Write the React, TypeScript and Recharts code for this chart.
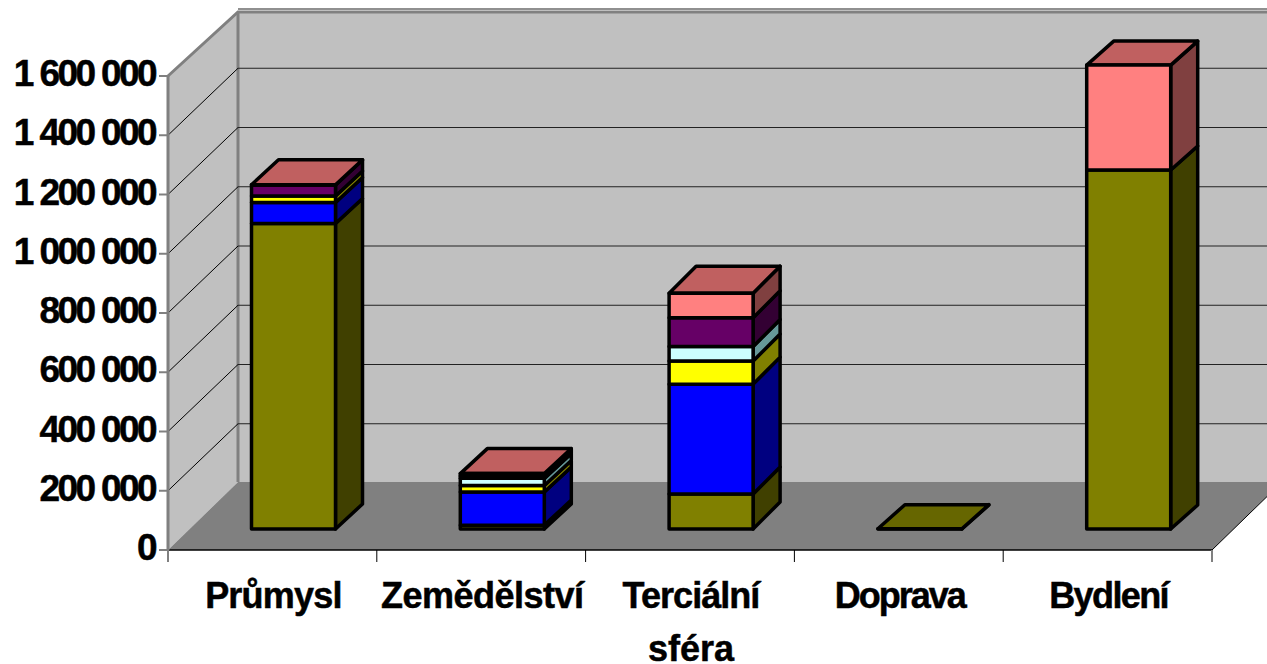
import React from "react";
import { BarChart, Bar, XAxis, YAxis, CartesianGrid } from "recharts";

const categories = ["Průmysl", "Zemědělství", "Terciální sféra", "Doprava", "Bydlení"];
const olive = [1031000, 13000, 118000, 1000, 1212000];
const blue = [71000, 112000, 371000, 0, 0];
const yellow = [22000, 22000, 78000, 0, 0];
const cyan = [0, 24000, 49000, 0, 0];
const purple = [37000, 8000, 97000, 0, 0];
const pink = [1000, 8000, 83000, 0, 354000];
const yTicks = [0, 200000, 400000, 600000, 800000, 1000000, 1200000, 1400000, 1600000];

const seriesValues = [olive, blue, yellow, cyan, purple, pink];
const seriesKeys = ["olive", "blue", "yellow", "cyan", "purple", "pink"];
const frontColors = ["#808000", "#0000ff", "#ffff00", "#ccffff", "#660066", "#ff8080"];
const sideColors = ["#404000", "#000080", "#808000", "#669999", "#330033", "#804040"];
const topColors = ["#666600", "#0000cc", "#cccc00", "#a3cccc", "#520052", "#c06060"];

const chartData = categories.map((name, i) => {
  const row: Record<string, any> = { name };
  seriesKeys.forEach((k, s) => { row[k] = seriesValues[s][i]; });
  return row;
});

const W = 1267, H = 664;
const LEFT = 168, RIGHT = 1212, TOP = 76, BOTTOM = 550;
const WALL_DX = 70, WALL_DY = -68, GRID_DY = -67;
const BAR_SHIFT_X = 21.5, BAR_SHIFT_Y = -21, DEPTH_X = 27;
const DEPTH_Y = [-25, -25, -27, -24, -24];
const FONT = "'Liberation Sans', Arial, sans-serif";
const BAND = (RIGHT - LEFT) / categories.length;
const WORD_SPACING: Record<string, number> = {
  "Průmysl": -0.8, "Zemědělství": -0.5, "Terciální": -0.95, "sféra": 0, "Doprava": -2, "Bydlení": -1.6,
};

function Walls() {
  const bx = LEFT + WALL_DX, by = BOTTOM + WALL_DY, rx = RIGHT + WALL_DX;
  return (
    <g>
      <polygon points={`${bx},12 ${rx},12 ${rx},${by} ${bx},${by}`} fill="#c0c0c0" />
      <polygon points={`${LEFT},${TOP} ${bx},12 ${bx},${by} ${LEFT},${BOTTOM}`} fill="#c0c0c0" />
      <polygon points={`${LEFT},${BOTTOM} ${RIGHT},${BOTTOM} ${rx},${by} ${bx},${by}`} fill="#808080" />
      <line x1={RIGHT} y1={BOTTOM} x2={rx} y2={by} stroke="#000" strokeWidth={1} />
      <polyline points={`${LEFT},${TOP} ${bx},12 ${W},12`} fill="none" stroke="#808080" strokeWidth={3} />
      <line x1={bx} y1={12} x2={bx} y2={by} stroke="#808080" strokeWidth={3} />
    </g>
  );
}

function gridLine(p: any) {
  const isFloor = p.y1 >= BOTTOM - 1;
  return (
    <g key={p.key ?? p.index}>
      {p.index === 0 && <Walls />}
      {!isFloor && (
        <line x1={LEFT + WALL_DX} x2={W} y1={p.y1 + GRID_DY} y2={p.y1 + GRID_DY} stroke="#222" strokeWidth={1.2} />
      )}
      {!isFloor && p.y1 > TOP + 1 && (
        <line x1={LEFT} x2={LEFT + WALL_DX} y1={p.y1} y2={p.y1 + GRID_DY} stroke="#000" strokeWidth={1} />
      )}
    </g>
  );
}

function makeSegment(seriesIndex: number) {
  return function Segment(props: any) {
    const { x, y, width, height, index } = props;
    if (seriesValues[seriesIndex][index] === 0) return <g />;
    const isTop = seriesValues.slice(seriesIndex + 1).every((v) => v[index] === 0);
    const l = x + BAR_SHIFT_X, r = l + width, t = y + BAR_SHIFT_Y, b = t + height;
    const dy = DEPTH_Y[index];
    const common = { stroke: "#000", strokeWidth: 3.5, strokeLinejoin: "round" as const };
    return (
      <g>
        <polygon points={`${r},${t} ${r + DEPTH_X},${t + dy} ${r + DEPTH_X},${b + dy} ${r},${b}`} fill={sideColors[seriesIndex]} {...common} />
        {isTop && (
          <polygon points={`${l},${t} ${l + DEPTH_X},${t + dy} ${r + DEPTH_X},${t + dy} ${r},${t}`} fill={topColors[seriesIndex]} {...common} />
        )}
        <rect x={l} y={t} width={width} height={height} fill={frontColors[seriesIndex]} {...common} />
      </g>
    );
  };
}

function CategoryTick(props: any) {
  const { x, payload, index } = props;
  const words = String(payload.value).split(" ");
  const last = index === categories.length - 1;
  return (
    <g>
      <line x1={x - BAND / 2} x2={x - BAND / 2} y1={BOTTOM} y2={BOTTOM + 12} stroke={index === 0 ? "#808080" : "#000"} strokeWidth={index === 0 ? 2 : 1} />
      {last && <line x1={x + BAND / 2} x2={x + BAND / 2} y1={BOTTOM} y2={BOTTOM + 12} stroke="#808080" strokeWidth={2} />}
      <text y={BOTTOM + 58} textAnchor="middle" fontFamily={FONT} fontWeight={700} fontSize={36} stroke="#000" strokeWidth={0.5} fill="#000">
        {words.map((w, i) => (
          <tspan key={w} x={x + 1} dy={i === 0 ? 0 : 53} letterSpacing={WORD_SPACING[w]}>{w}</tspan>
        ))}
      </text>
    </g>
  );
}

const formatTick = (v: number) => String(v).replace(/\B(?=(\d{3})+$)/g, " ");

function ValueTick(props: any) {
  const { x, y, payload } = props;
  return (
    <text x={x - 2} y={y + 10} textAnchor="end" fontFamily={FONT} fontWeight={700} fontSize={37} letterSpacing={-2.6} stroke="#000" strokeWidth={0.5} fill="#000">
      {formatTick(payload.value)}
    </text>
  );
}

export default function App() {
  return (
    <div style={{ position: "absolute", left: 0, top: 0, width: W, height: H, background: "#fff", overflow: "hidden" }}>
      <BarChart
        width={W}
        height={H}
        data={chartData}
        margin={{ top: TOP, right: W - RIGHT, bottom: 0, left: 0 }}
        barSize={84}
        barGap={0}
      >
        <CartesianGrid vertical={false} horizontal={gridLine} />
        <XAxis
          dataKey="name"
          height={H - BOTTOM}
          interval={0}
          tickLine={false}
          axisLine={{ stroke: "#000", strokeWidth: 1.5 }}
          tick={<CategoryTick />}
        />
        <YAxis
          width={LEFT}
          domain={[0, 1600000]}
          ticks={yTicks}
          interval={0}
          tickSize={9}
          tickMargin={2}
          tickLine={{ stroke: "#808080", strokeWidth: 2 }}
          axisLine={{ stroke: "#808080", strokeWidth: 3 }}
          tick={<ValueTick />}
        />
        {seriesKeys.map((k, i) => (
          <Bar key={k} dataKey={k} stackId="a" fill={frontColors[i]} isAnimationActive={false} shape={makeSegment(i)} />
        ))}
      </BarChart>
    </div>
  );
}
